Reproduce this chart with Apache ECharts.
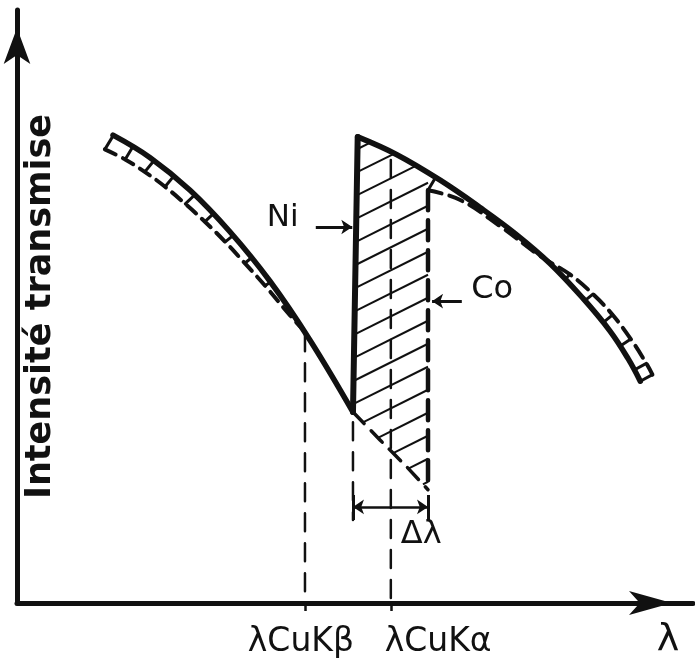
<!DOCTYPE html>
<html><head><meta charset="utf-8">
<script src="https://cdn.jsdelivr.net/npm/echarts@6/dist/echarts.min.js"></script>
<style>html,body{margin:0;padding:0;background:#fff}#c{width:695px;height:666px}</style>
</head><body><div id="c"></div>
<script>
// ---- data (arbitrary units: wavelength λ on x, transmitted intensity on y) ----
const niLeft = [[1.42,7.89],[1.97,7.51],[2.56,6.96],[3.15,6.26],[3.74,5.43],[4.33,4.44],[4.97,3.22]];
const niRight = [[5.04,7.86],[5.62,7.56],[6.26,7.13],[6.85,6.67],[7.37,6.23],[7.88,5.73],[8.37,5.14],[8.77,4.59],[9.04,4.12],[9.22,3.74]];
const niExtension = [[4.97,3.22],[5.37,2.75],[5.77,2.29],[6.08,1.91]];
const coLeft = [[1.30,7.65],[1.60,7.48],[1.89,7.27],[2.19,7.02],[2.49,6.73],[2.78,6.43],[3.08,6.09],[3.37,5.73],[3.67,5.35],[4.04,4.85],[4.28,4.55]];
const coRight = [[6.08,6.96],[6.55,6.80],[7.14,6.36],[7.74,5.85],[8.18,5.54],[8.52,5.21],[8.81,4.86],[9.08,4.45],[9.31,4.04],[9.40,3.85]];
const coEdge = [[6.08,6.96],[6.08,1.91]];
const kBeta = [[4.26,4.55],[4.26,0]];
const kAlpha = [[5.53,7.47],[5.53,0]];
const niEdgeDrop = [[4.97,3.05],[4.97,1.40]];
const deltaLambda = [[4.97,1.62],[6.08,1.62]];
const deltaBars = [[[4.97,1.82],[4.97,1.40]],[[6.08,1.82],[6.08,1.40]]];
const niArrow = [[4.42,6.34],[4.96,6.34]];
const coArrow = [[6.58,5.09],[6.14,5.09]];
const tickValues = [4.26, 5.53];
const labels = [
  {text:'Ni', at:[3.93,6.49], size:31},
  {text:'Co', at:[7.03,5.28], size:32},
  {text:'Δλ', at:[5.98,1.15], size:32},
  {text:'λCuKβ', at:[4.20,-0.66], size:33},
  {text:'λCuKα', at:[6.23,-0.66], size:33},
  {text:'λ', at:[9.63,-0.62], size:38}
];
const yTitle = 'Intensité transmise';

// ---- styling ----
const INK = '#111111';
const FONT = 'DejaVu Sans';

function nearest(p, poly) {
  let best = null, bd = Infinity;
  for (let i = 0; i < poly.length - 1; i++) {
    const a = poly[i], b = poly[i+1];
    const dx = b[0]-a[0], dy = b[1]-a[1];
    let t = ((p[0]-a[0])*dx + (p[1]-a[1])*dy) / (dx*dx+dy*dy);
    t = Math.max(0, Math.min(1, t));
    const q = [a[0]+t*dx, a[1]+t*dy];
    const d = Math.hypot(p[0]-q[0], p[1]-q[1]);
    if (d < bd) { bd = d; best = q; }
  }
  return {q: best, d: bd};
}

function renderDecor(params, api) {
  const P = pts => pts.map(p => api.coord(p));
  const L = P(niLeft), R = P(niRight), E = P(niExtension), CE = P(coEdge);
  const CL = P(coLeft), CR = P(coRight);
  const xCo = CE[0][0];
  const children = [];
  // hatched region polygon (pixel space)
  const poly = [L[L.length-1]];
  let yTop = null;
  for (let i = 0; i < R.length; i++) {
    if (R[i][0] < xCo) poly.push(R[i]);
    else { const a = R[i-1], b = R[i]; const t = (xCo-a[0])/(b[0]-a[0]); yTop = a[1]+t*(b[1]-a[1]); break; }
  }
  poly.push([xCo, yTop]);
  poly.push(CE[1]);
  for (let i = E.length-2; i >= 1; i--) poly.push(E[i]);
  const s = 0.5, step = 23;
  const g = p => p[1] + s*p[0];
  let gmin = Infinity, gmax = -Infinity;
  poly.forEach(p => { gmin = Math.min(gmin, g(p)); gmax = Math.max(gmax, g(p)); });
  for (let c = gmin + 12; c < gmax; c += step) {
    const pts = [];
    for (let i = 0; i < poly.length; i++) {
      const a = poly[i], b = poly[(i+1)%poly.length];
      const ga = g(a)-c, gb = g(b)-c;
      if ((ga < 0) !== (gb < 0)) {
        const t = ga/(ga-gb);
        pts.push([a[0]+t*(b[0]-a[0]), a[1]+t*(b[1]-a[1])]);
      }
    }
    pts.sort((u,v) => u[0]-v[0]);
    for (let k = 0; k+1 < pts.length; k += 2) {
      children.push({type:'line', shape:{x1:pts[k][0], y1:pts[k][1], x2:pts[k+1][0], y2:pts[k+1][1]},
        style:{stroke:INK, lineWidth:2}});
    }
  }
  // rungs of the Co comb
  [[CL, L],[CR, R]].forEach(([co, ni]) => {
    co.forEach(p => {
      const r = nearest(p, ni);
      if (r.d > 6 && r.d < 30) {
        children.push({type:'line', shape:{x1:p[0], y1:p[1], x2:r.q[0], y2:r.q[1]},
          style:{stroke:INK, lineWidth:3, lineCap:'round'}});
      }
    });
  });
  return {type:'group', children};
}

const lineS = (data, width, type, extra) => Object.assign({
  type:'line', data, symbol:'none', showSymbol:false, silent:true, z:3,
  smoothMonotone:'none',
  lineStyle:{color:INK, width, type, cap:'round', join:'round'}
}, extra || {});

const chart = echarts.init(document.getElementById('c'), null, {renderer:'canvas'});
chart.setOption({
  animation:false,
  backgroundColor:'#ffffff',
  grid:{left:17, right:2, top:10, bottom:63},
  xAxis:{type:'value', min:0, max:10,
    splitLine:{show:false}, axisLabel:{show:false},
    axisTick:{show:true, customValues:tickValues, length:8, lineStyle:{color:INK, width:2.5}},
    axisLine:{show:true, onZero:false, symbol:['none','arrow'], symbolSize:[18,43], symbolOffset:[0,-21],
      lineStyle:{color:INK, width:5}}},
  yAxis:{type:'value', min:0, max:10,
    splitLine:{show:false}, axisLabel:{show:false}, axisTick:{show:false},
    axisLine:{show:true, onZero:false, symbol:['none','arrow'], symbolSize:[20,36], symbolOffset:[0,-18],
      lineStyle:{color:INK, width:5}},
    name:yTitle, nameLocation:'middle', nameRotate:90, nameGap:-41,
    nameTextStyle:{fontFamily:FONT, fontSize:35, fontWeight:'bold', color:INK}},
  series:[
    {type:'custom', renderItem:renderDecor, data:[[0,0]], silent:true, z:2},
    lineS(niLeft, 5.5, 'solid', {smooth:0.4}),
    lineS([niLeft[niLeft.length-1], niRight[0]], 6, 'solid'),
    lineS(niRight, 5.5, 'solid', {smooth:0.4}),
    lineS(coLeft, 4, [12,8], {smooth:0.4}),
    lineS(coRight, 4, [14,8], {smooth:0.4}),
    lineS(coEdge, 4.5, [20,10]),
    lineS(niExtension, 3.5, [16,10], {smooth:0.2}),
    lineS(kBeta, 2.5, [18,12]),
    lineS(kAlpha, 2.5, [18,12]),
    lineS(niEdgeDrop, 2.5, [18,12]),
    {type:'lines', coordinateSystem:'cartesian2d', silent:true, z:4,
      symbol:['none','arrow'], symbolSize:11,
      lineStyle:{color:INK, width:3, opacity:1},
      data:[{coords:niArrow},{coords:coArrow}]},
    {type:'lines', coordinateSystem:'cartesian2d', silent:true, z:4,
      symbol:['arrow','arrow'], symbolSize:11,
      lineStyle:{color:INK, width:2.5, opacity:1},
      data:[{coords:deltaLambda}]},
    {type:'lines', coordinateSystem:'cartesian2d', silent:true, z:4,
      symbol:['none','none'],
      lineStyle:{color:INK, width:3, opacity:1},
      data:deltaBars.map(c => ({coords:c}))},
    {type:'scatter', silent:true, clip:false, symbolSize:0, z:5,
      itemStyle:{opacity:1},
      data:labels.map(l => ({value:l.at, label:{show:true, position:'inside', formatter:l.text,
        fontFamily:FONT, fontSize:l.size, color:INK, opacity:1}}))}
  ]
});
</script></body></html>
